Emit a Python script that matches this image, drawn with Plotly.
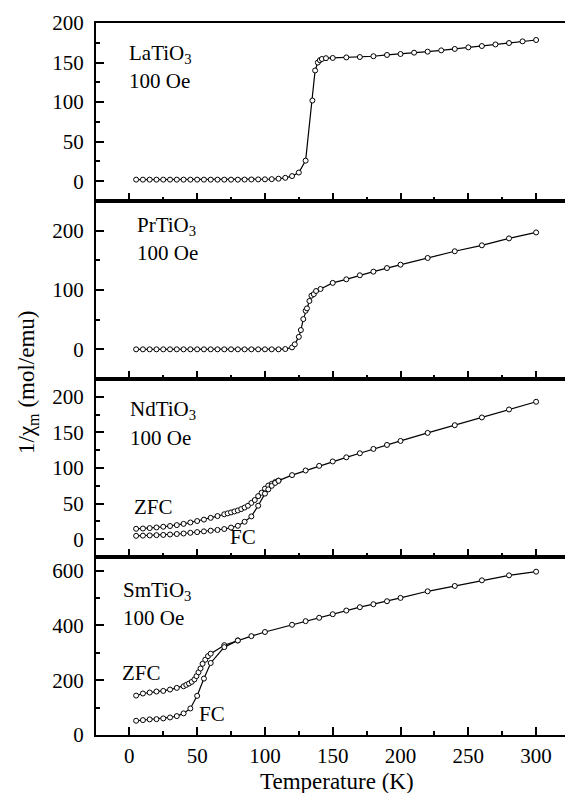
import plotly.graph_objects as go
from plotly.subplots import make_subplots

# ---------------- data ----------------
# LaTiO3, 100 Oe
T_la = [5, 10, 15, 20, 25, 30, 35, 40, 45, 50, 55, 60, 65, 70, 75, 80, 85, 90, 95, 100,
        105, 110, 115, 120, 125, 130, 135, 137, 139, 140.5, 142, 145, 150, 160, 170, 180,
        190, 200, 210, 220, 230, 240, 250, 260, 270, 280, 290, 300]
v_la = [2.0, 2.0, 2.0, 2.0, 2.0, 2.0, 2.0, 2.0, 2.0, 2.0, 2.0, 2.0, 2.0, 2.0, 2.0, 2.0, 2.1, 2.2, 2.3, 2.4,
        2.6, 3.2, 4.3, 6.5, 11, 26, 102, 140, 150, 153, 154.5, 155.5, 155.8, 156.5, 157, 158,
        159.6, 160.8, 162.5, 163.8, 165.4, 167.2, 169.2, 170.9, 172.9, 174.7, 176.8, 178.5]

# PrTiO3, 100 Oe
T_pr = [5, 10, 15, 20, 25, 30, 35, 40, 45, 50, 55, 60, 65, 70, 75, 80, 85, 90, 95, 100,
        105, 110, 115, 120, 122, 125, 126.5, 128.3, 130, 131, 132.8, 134.3, 136, 137.7, 141,
        150, 160, 170, 180, 190, 200, 220, 240, 260, 280, 300]
v_pr = [0, 0, 0, 0, 0, 0, 0, 0, 0, 0, 0, 0, 0, 0, 0, 0, 0, 0, 0, 0,
        0, 0, 0.5, 3.3, 8.4, 21, 32.5, 51, 65, 69, 81.5, 90.4, 93, 98.3, 101.7,
        112, 118, 124.8, 130.9, 137, 142.7, 154, 165.3, 175.3, 187, 197]

# NdTiO3, 100 Oe
T_nd_zfc = [5, 10, 15, 20, 25, 30, 35, 40, 45, 50, 55, 60, 65, 70, 72.5, 75, 77.5, 80, 82.5,
            85, 87.5, 90, 92.5, 95, 97.5, 100, 102.5, 105, 107.5, 110, 120, 130, 140, 150,
            160, 170, 180, 190, 200, 220, 240, 260, 280, 300]
v_nd_zfc = [14.6, 15, 15.6, 16.5, 17.5, 18.5, 19.8, 21.5, 23.5, 25.5, 27.5, 30, 32.5, 35, 36.3,
            37.6, 39, 40.4, 42.3, 44.5, 47, 51, 55, 60.5, 65.2, 71, 75.3, 77.8, 80.2, 82.3, 90,
            96.5, 103, 109.2, 115, 120.7, 126.8, 132.4, 138, 149.3, 160.1, 171, 182.2, 193]
T_nd_fc = [5, 10, 15, 20, 25, 30, 35, 40, 45, 50, 55, 60, 65, 70, 75, 80, 85, 90, 95, 100,
           102.5, 105, 107.5, 110]
v_nd_fc = [4.7, 5, 5.3, 5.7, 6, 6.6, 7.3, 8, 9, 10, 11, 12, 13, 14.3, 16.3, 18.8, 24.5, 32,
           47, 64, 70, 75, 79, 82]

# SmTiO3, 100 Oe
T_sm_zfc = [5, 10, 15, 20, 25, 30, 35, 40, 42, 44, 46, 48, 49.5, 51, 52.5, 54, 56, 58, 60,
            70, 80, 90, 100, 120, 130, 140, 150, 160, 170, 180, 190, 200, 220, 240, 260, 280, 300]
v_sm_zfc = [144, 151.5, 155, 158.8, 161, 166, 172, 178, 183, 188, 194, 203, 215, 229, 243,
            260, 275, 288, 297, 328, 345.5, 361, 376, 402.5, 415.7, 428, 441, 454.5, 466.7,
            477.6, 488.5, 500.6, 524.8, 544.2, 564.8, 583, 596.4]
T_sm_fc = [5, 10, 15, 20, 25, 30, 35, 40, 45, 50, 55, 60, 70, 80]
v_sm_fc = [52, 54.5, 57, 58, 60.6, 64, 69, 79, 97, 143, 206, 263, 321, 345]

y_ranges = [[-25, 200], [-50, 250], [-25, 225], [0, 650]]
y_dticks = [50, 100, 50, 200]
x_range = [-24.6, 321.3]

# ---------------- figure ----------------
W, H = 565, 793
ML, MR, MT, MB = 96, 0, 23, 58
PW, PH = W - ML - MR, H - MT - MB
FAMILY = 'Liberation Serif, Times New Roman, Times, serif'

fig = make_subplots(rows=4, cols=1, shared_xaxes=True, vertical_spacing=0)

mk = dict(symbol='circle', size=5, color='white', line=dict(color='black', width=1))
ln = dict(color='black', width=1.2)

series = [
    (1, T_la, v_la), (2, T_pr, v_pr),
    (3, T_nd_zfc, v_nd_zfc), (3, T_nd_fc, v_nd_fc),
    (4, T_sm_zfc, v_sm_zfc), (4, T_sm_fc, v_sm_fc),
]
for row, xs, ys in series:
    fig.add_trace(go.Scatter(x=xs, y=ys, mode='lines+markers', marker=mk, line=ln,
                             showlegend=False, cliponaxis=False), row=row, col=1)

tfont = dict(family=FAMILY, size=21, color='black')

for i in range(4):
    row = i + 1
    fig.update_xaxes(range=x_range, tick0=0, dtick=50, ticks='inside', ticklen=8, tickwidth=1.5,
                     tickcolor='black', showline=True, linewidth=2, linecolor='black', mirror=True,
                     showgrid=False, zeroline=False, showticklabels=(row == 4),
                     tickfont=tfont, ticklabelstandoff=1,
                     minor=dict(dtick=25, tick0=0, ticks='inside', ticklen=4, tickwidth=1.5,
                                tickcolor='black', showgrid=False),
                     row=row, col=1)
    fig.update_yaxes(range=y_ranges[i], tick0=0, dtick=y_dticks[i], ticks='inside', ticklen=8,
                     tickwidth=1.5, tickcolor='black', showline=True, linewidth=2,
                     linecolor='black', mirror=False, showgrid=False, zeroline=False,
                     tickfont=tfont, ticklabelstandoff=6,
                     minor=dict(dtick=y_dticks[i] / 2, tick0=0, ticks='inside', ticklen=4,
                                tickwidth=1.5, tickcolor='black', showgrid=False),
                     row=row, col=1)


def px2paper(px, py):
    return (px - ML) / PW, 1 - (py - MT) / PH


labels = [
    ('LaTiO<sub>3</sub>', 126.7, 54), ('100 Oe', 126.7, 81),
    ('PrTiO<sub>3</sub>', 135, 226), ('100 Oe', 135, 253),
    ('NdTiO<sub>3</sub>', 127.7, 410), ('100 Oe', 127.7, 438),
    ('ZFC', 131.7, 507), ('FC', 228, 537),
    ('SmTiO<sub>3</sub>', 121, 591), ('100 Oe', 121, 618),
    ('ZFC', 120, 673), ('FC', 196.7, 714),
]
for txt, px, py in labels:
    x, y = px2paper(px, py)
    fig.add_annotation(text=txt, x=x, y=y, xref='paper', yref='paper', xanchor='left',
                       yanchor='middle', showarrow=False,
                       font=dict(family=FAMILY, size=21, color='black'))

x, y = px2paper(28, 383)
fig.add_annotation(text='1/χ<sub>m</sub> (mol/emu)', x=x, y=y, xref='paper', yref='paper',
                   xanchor='center', yanchor='middle', textangle=-90, showarrow=False,
                   font=dict(family=FAMILY, size=23, color='black'))
x, y = px2paper(336.5, 781)
fig.add_annotation(text='Temperature (K)', x=x, y=y, xref='paper', yref='paper',
                   xanchor='center', yanchor='middle', showarrow=False,
                   font=dict(family=FAMILY, size=23, color='black'))

fig.update_layout(width=W, height=H, margin=dict(l=ML, r=MR, t=MT, b=MB),
                  paper_bgcolor='white', plot_bgcolor='white', showlegend=False,
                  font=dict(family=FAMILY, color='black'))

fig.write_html('out.html')
